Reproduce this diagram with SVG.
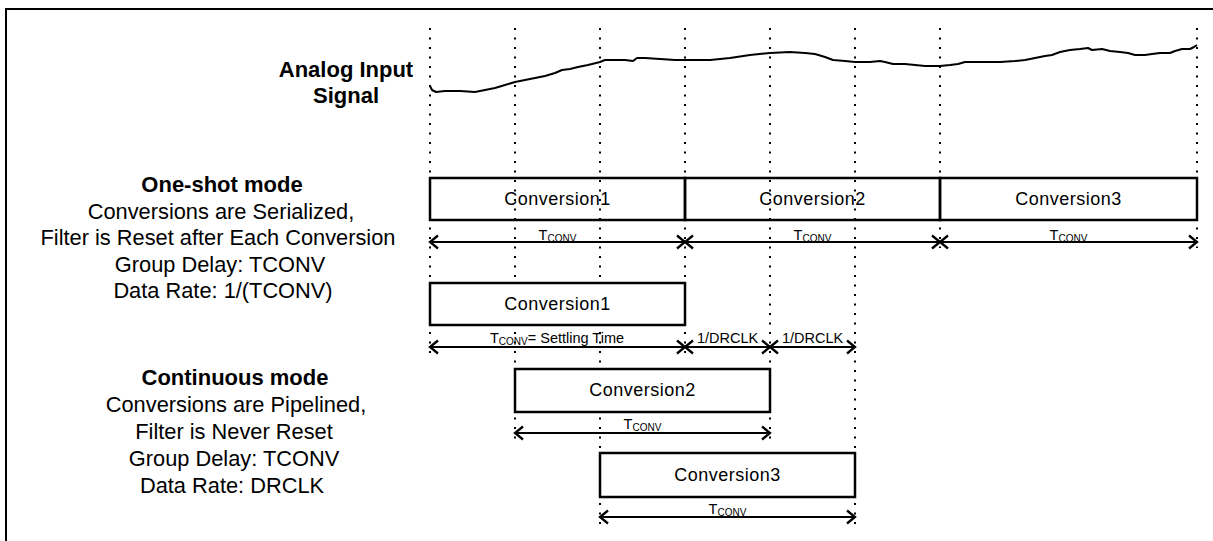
<svg xmlns="http://www.w3.org/2000/svg" width="1213" height="541" viewBox="0 0 1213 541">
<style>
.frame{fill:none;stroke:#000;stroke-width:2}
.grid{stroke:#000;stroke-width:2;stroke-dasharray:2 7.5;fill:none}
.box{fill:none;stroke:#000;stroke-width:2.5}
.boxw{fill:#fff;stroke:#000;stroke-width:2.5}
.arr{stroke:#000;stroke-width:2;fill:none;marker-start:url(#ah);marker-end:url(#ah)}
.sig{fill:none;stroke:#000;stroke-width:2;stroke-linejoin:round}
text{font-family:"Liberation Sans",Arial,sans-serif;fill:#000}
.bl{font-size:18px;letter-spacing:0.5px;text-anchor:middle}
.title{font-size:22px;font-weight:bold;text-anchor:middle}
.side{font-size:21.8px;text-anchor:middle}
.tl{font-size:14.5px;text-anchor:middle}
.sub{font-size:10px}
</style>
<defs>
<marker id="ah" viewBox="-11 -9 13 18" refX="0" refY="0" markerWidth="13" markerHeight="18" markerUnits="userSpaceOnUse" orient="auto-start-reverse">
<path d="M-8,-6.5 L0,0 L-8,6.5" fill="none" stroke="#000" stroke-width="2.3"/>
</marker>
</defs>
<rect class="frame" x="6" y="9" width="1222" height="545"/>
<g id="grid">
<line class="grid" x1="430" y1="28" x2="430" y2="358"/>
<line class="grid" x1="515" y1="28" x2="515" y2="443"/>
<line class="grid" x1="600" y1="28" x2="600" y2="527"/>
<line class="grid" x1="685" y1="28" x2="685" y2="358"/>
<line class="grid" x1="770" y1="28" x2="770" y2="443"/>
<line class="grid" x1="855" y1="28" x2="855" y2="527"/>
<line class="grid" x1="940" y1="28" x2="940" y2="248"/>
<line class="grid" x1="1197" y1="28" x2="1197" y2="248"/>
</g>
<g id="signal-label">
<text class="title" x="346" y="77">Analog Input</text>
<text class="title" x="346" y="103">Signal</text>
</g>
<g id="signal">
<polyline class="sig" points="430,86 432,90 436,92 445,91 460,91 475,92 485,90 495,88 505,85 515,82 525,80 535,78 545,76 555,73 562,70 570,69 578,67 588,65 596,63 600,62 605,60 615,60 625,60 633,61 637,58 645,58 660,59 675,60 690,60 710,60 730,58 750,55 770,53 790,52 805,53 815,54 825,57 833,60 845,61 855,62 870,62 880,61 885,62 893,64 905,64 915,65 925,66 940,66 950,65 958,64 965,62 980,62 1000,62 1015,61 1025,60 1035,58 1045,56 1052,55 1060,52 1070,50 1080,49 1088,48 1092,50 1102,49 1110,51 1120,52 1128,53 1135,55 1145,55 1152,54 1160,53 1170,53 1175,51 1182,49 1190,49 1194,47 1197,45"/>
</g>
<g id="oneshot-label">
<text class="title" x="222" y="192">One-shot mode</text>
<text class="side" x="221" y="218.5">Conversions are Serialized,</text>
<text class="side" x="218" y="245">Filter is Reset after Each Conversion</text>
<text class="side" x="220" y="271.5">Group Delay: TCONV</text>
<text class="side" x="223" y="298">Data Rate: 1/(TCONV)</text>
</g>
<g id="continuous-label">
<text class="title" x="235" y="385">Continuous mode</text>
<text class="side" x="236" y="411.5">Conversions are Pipelined,</text>
<text class="side" x="234" y="438.5">Filter is Never Reset</text>
<text class="side" x="234" y="465.5">Group Delay: TCONV</text>
<text class="side" x="232" y="492.5">Data Rate: DRCLK</text>
</g>
<g id="os-conv1"><rect class="box" x="430" y="178" width="255" height="42"/><text class="bl" x="557.5" y="205">Conversion1</text></g>
<g id="os-conv2"><rect class="box" x="685" y="178" width="255" height="42"/><text class="bl" x="812.5" y="205">Conversion2</text></g>
<g id="os-conv3"><rect class="box" x="940" y="178" width="257" height="42"/><text class="bl" x="1068.5" y="205">Conversion3</text></g>
<g id="ct-conv1"><rect class="boxw" x="430" y="283" width="255" height="42"/><text class="bl" x="557.5" y="310">Conversion1</text></g>
<g id="ct-conv2"><rect class="boxw" x="515" y="369" width="255" height="43"/><text class="bl" x="642.5" y="396">Conversion2</text></g>
<g id="ct-conv3"><rect class="boxw" x="600" y="453" width="255" height="44"/><text class="bl" x="727.5" y="481">Conversion3</text></g>
<g id="connectors">
<line class="arr" x1="430" y1="242" x2="685" y2="242"/>
<line class="arr" x1="685" y1="242" x2="940" y2="242"/>
<line class="arr" x1="940" y1="242" x2="1197" y2="242"/>
<line class="arr" x1="430" y1="347" x2="685" y2="347"/>
<line class="arr" x1="685" y1="347" x2="770" y2="347"/>
<line class="arr" x1="770" y1="347" x2="855" y2="347"/>
<line class="arr" x1="515" y1="433" x2="770" y2="433"/>
<line class="arr" x1="600" y1="517" x2="855" y2="517"/>
</g>
<g id="labels">
<text class="tl" x="557.5" y="240">T<tspan class="sub" dy="2">CONV</tspan></text>
<text class="tl" x="812.5" y="240">T<tspan class="sub" dy="2">CONV</tspan></text>
<text class="tl" x="1068.5" y="240">T<tspan class="sub" dy="2">CONV</tspan></text>
<text class="tl" x="557" y="343">T<tspan class="sub" dy="2">CONV</tspan><tspan dy="-2">= Settling Time</tspan></text>
<text class="tl" x="727.5" y="343">1/DRCLK</text>
<text class="tl" x="812.5" y="343">1/DRCLK</text>
<text class="tl" x="642.5" y="429">T<tspan class="sub" dy="2">CONV</tspan></text>
<text class="tl" x="727.5" y="514">T<tspan class="sub" dy="2">CONV</tspan></text>
</g>
</svg>
